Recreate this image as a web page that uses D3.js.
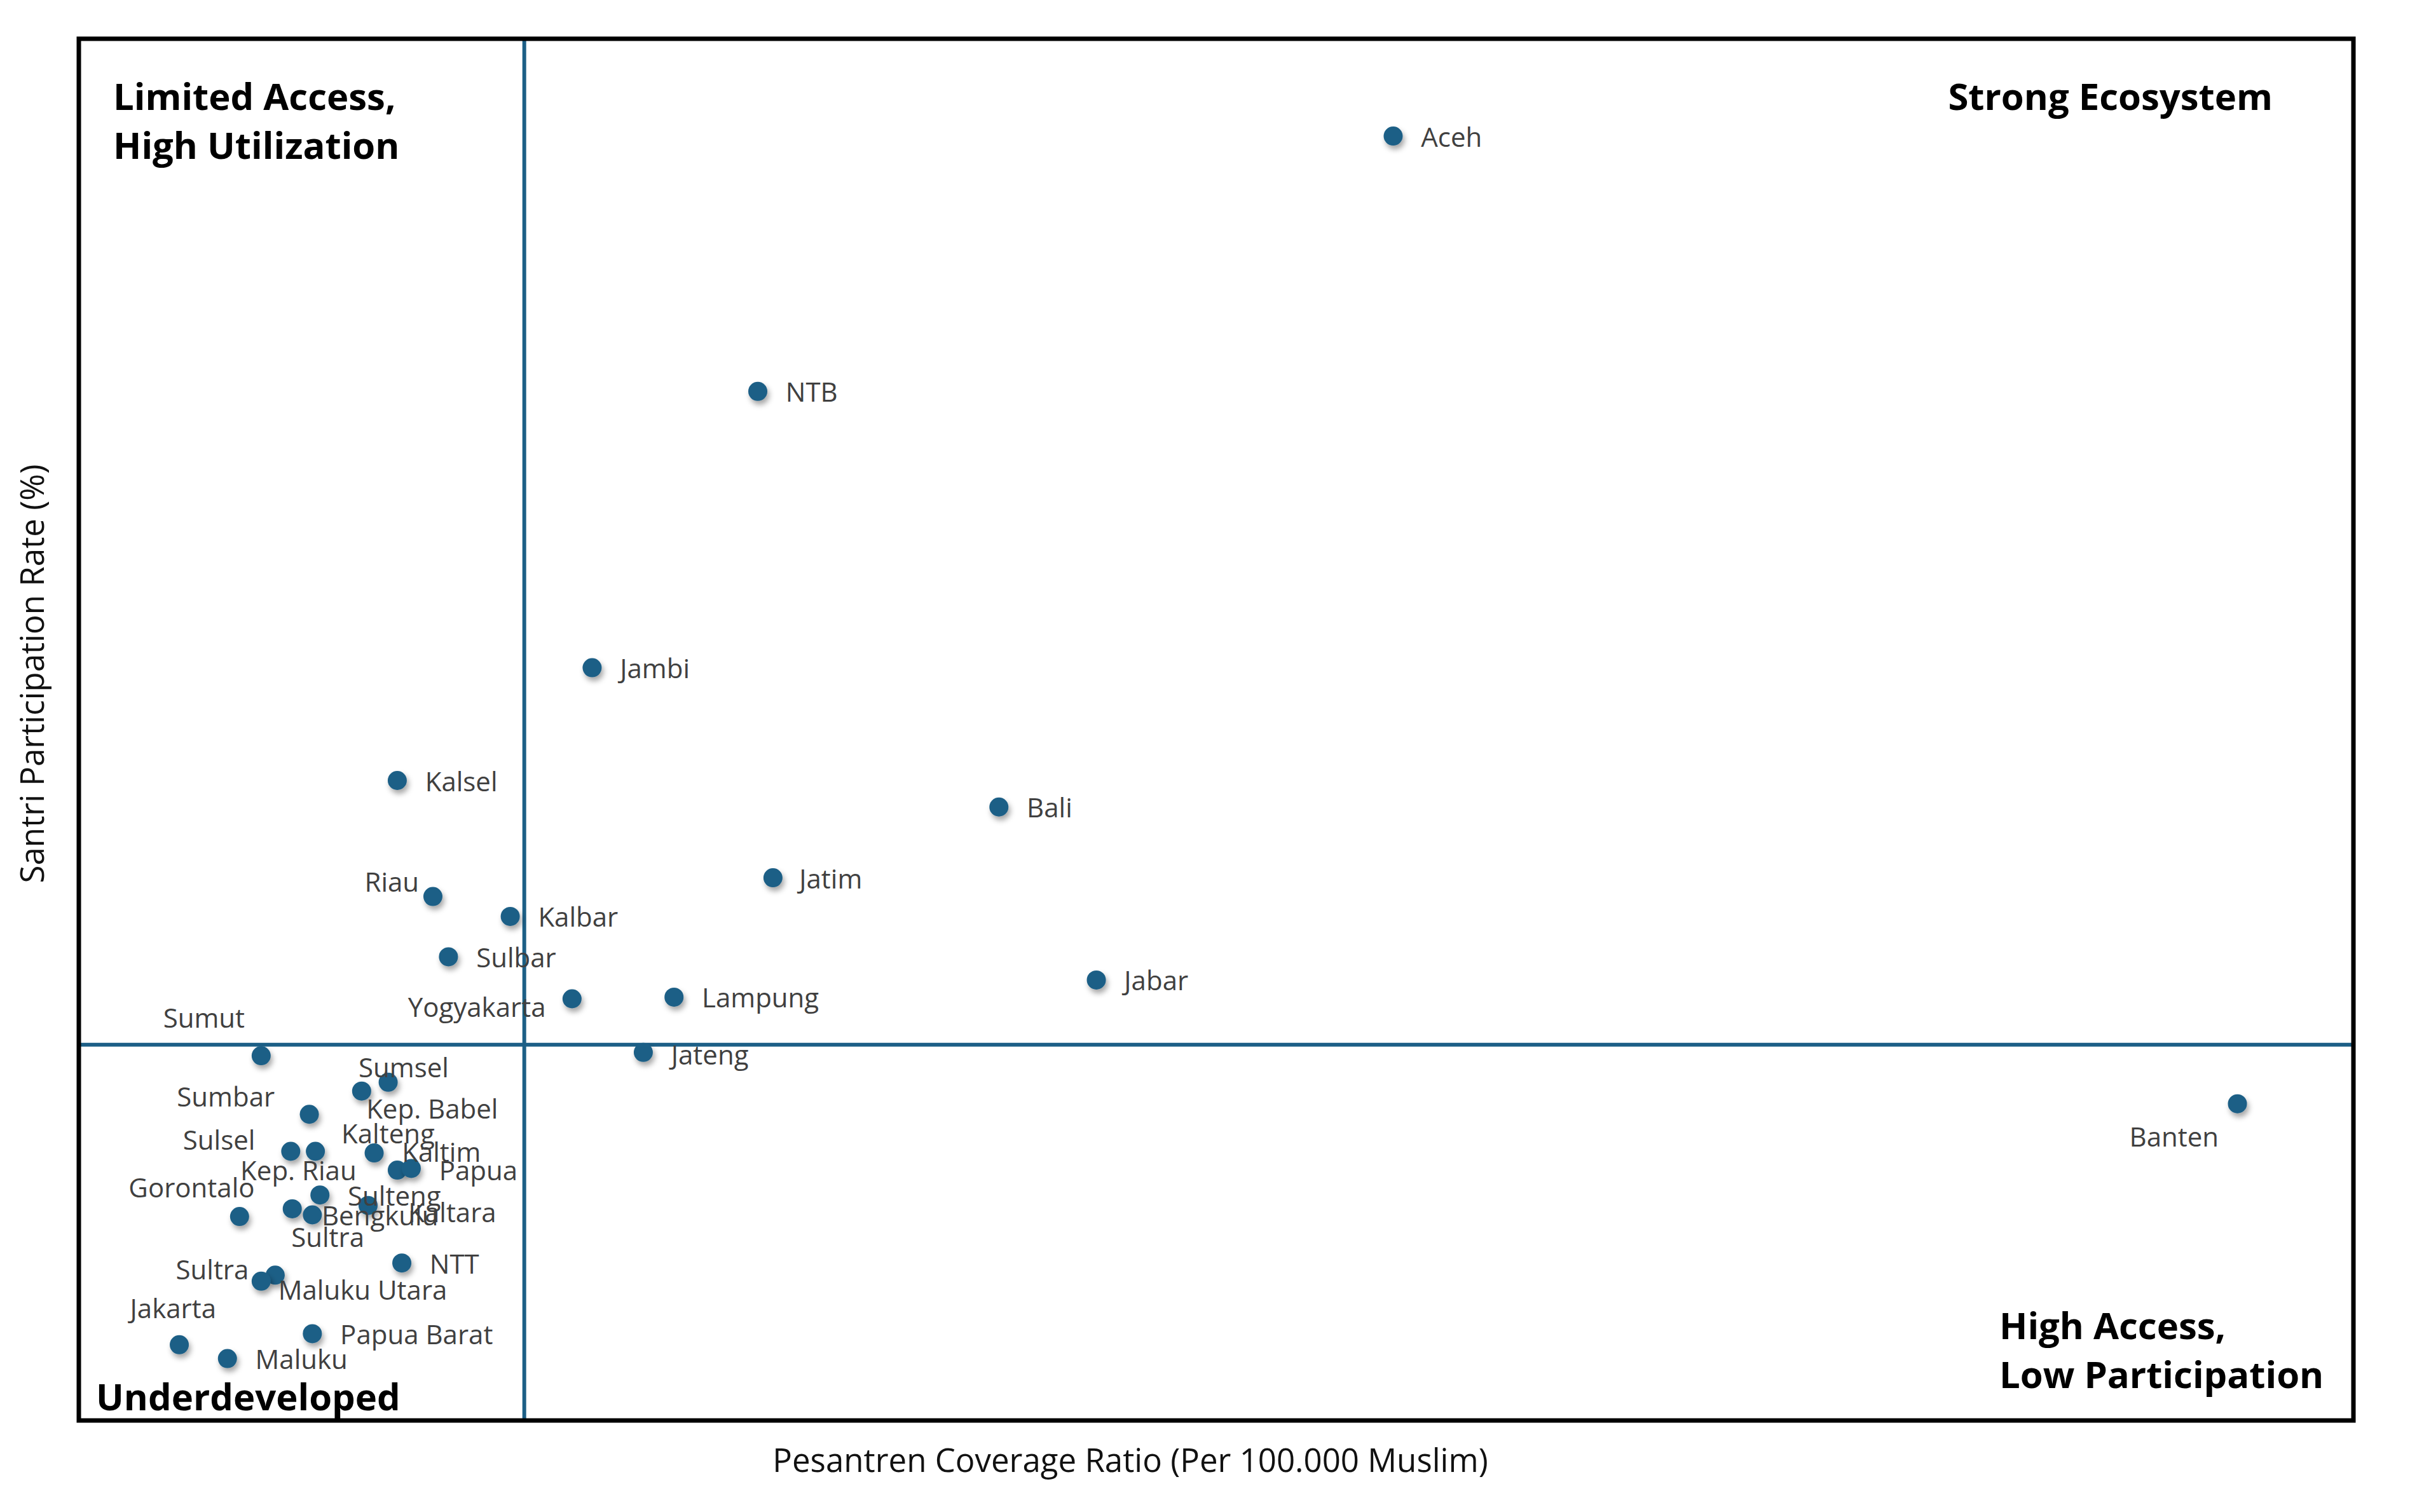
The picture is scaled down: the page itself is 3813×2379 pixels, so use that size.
<!DOCTYPE html>
<html>
<head>
<meta charset="utf-8">
<script src="https://cdn.jsdelivr.net/npm/d3@7"></script>
<style>
  body { margin: 0; background: #fff; }
  svg { display: block; }
</style>
</head>
<body>
<svg width="3813" height="2379"></svg>
<script>
//data
var provinces = ['Aceh','NTB','Jambi','Kalsel','Bali','Jatim','Riau','Kalbar','Sulbar','Jabar','Lampung','Yogyakarta','Jateng','Banten',
  'Sumut','Sumsel','Kep. Babel','Sumbar','Sulsel','Kep. Riau','Kalteng','Kaltim','Papua','Sulteng','Sultra','Bengkulu','Kaltara',
  'Gorontalo','NTT','Maluku Utara','Sultra','Papua Barat','Jakarta','Maluku'];
var coverage = [34.67,17.91,13.54,8.40,24.27,18.31,9.34,11.38,9.75,26.84,15.70,13.01,14.89,56.94,
  4.81,8.16,7.46,6.08,5.59,6.24,7.79,8.40,8.77,6.36,5.63,6.16,7.63,
  4.24,8.52,5.18,4.81,6.16,2.65,3.92];
var participation = [23.24,18.62,13.62,11.58,11.10,9.82,9.48,9.12,8.39,7.97,7.66,7.63,6.66,5.73,
  6.60,6.12,5.96,5.54,4.87,4.87,4.84,4.53,4.56,4.08,3.83,3.72,3.89,
  3.69,2.85,2.63,2.52,1.57,1.37,1.12];
var xThreshold = 11.75;
var yThreshold = 6.80;
var xDomain = [0, 60];
var yDomain = [0, 25];
var quadrantTitles = [['Limited Access,','High Utilization'],['Strong Ecosystem'],['High Access,','Low Participation'],['Underdeveloped']];
var xTitle = 'Pesantren Coverage Ratio (Per 100.000 Muslim)';
var yTitle = 'Santri Participation Rate  (%)';

//label placement: anchor and offset from the dot (screen units, scaled below)
var labelPlace = [['start',18,0],['start',18,0],['start',18,0],['start',18,0],['start',18,0],['start',17,0],['end',-9,-10],
  ['start',18,0],['start',18,0],['start',18,0],['start',18,0],['end',-17,5],['start',18,1],['middle',-41,21],
  ['middle',-37,-25],['middle',10,-10],['start',3,11],['middle',-54,-12],['end',-23,-8],['middle',-11,12],['middle',9,-13],
  ['start',3,-12],['start',18,1],['start',18,0],['middle',23,18],['start',6,0],['start',26,4],
  ['middle',-31,-19],['start',18,0],['start',2,9],['end',-8,-8],['start',18,0],['middle',-4,-24],['start',18,0]];

var S = 2.432;
var svg = d3.select('svg');
var frame = {l: 124, t: 61, r: 3702, b: 2235};
var dotColor = '#1c5f86';
var font = '"Open Sans", "Noto Sans", sans-serif';

var x = d3.scaleLinear().domain(xDomain).range([frame.l, frame.r]);
var y = d3.scaleLinear().domain(yDomain).range([frame.b, frame.t]);

var dataset = provinces.map(function(p, i) {
  return {name: p, cov: coverage[i], part: participation[i], place: labelPlace[i]};
});

//shadow for dots
var defs = svg.append('defs');
var f = defs.append('filter').attr('id', 'shadow')
  .attr('x', '-60%').attr('y', '-60%').attr('width', '240%').attr('height', '240%');
f.append('feDropShadow').attr('dx', 3).attr('dy', 6).attr('stdDeviation', 4)
  .attr('flood-color', '#000').attr('flood-opacity', 0.35);

//quadrant lines
svg.append('line')
  .attr('x1', x(xThreshold)).attr('x2', x(xThreshold))
  .attr('y1', frame.t).attr('y2', frame.b)
  .attr('stroke', dotColor).attr('stroke-width', 6);
svg.append('line')
  .attr('x1', frame.l).attr('x2', frame.r)
  .attr('y1', y(yThreshold)).attr('y2', y(yThreshold))
  .attr('stroke', dotColor).attr('stroke-width', 6);

//frame
svg.append('rect')
  .attr('x', frame.l).attr('y', frame.t)
  .attr('width', frame.r - frame.l).attr('height', frame.b - frame.t)
  .attr('fill', 'none').attr('stroke', '#000').attr('stroke-width', 7);

//dots
svg.selectAll('.dot')
  .data(dataset)
  .enter()
  .append('circle')
  .attr('class', 'dot')
  .attr('cx', function(d) { return x(d.cov); })
  .attr('cy', function(d) { return y(d.part); })
  .attr('r', 15)
  .attr('fill', dotColor)
  .attr('filter', 'url(#shadow)');

//labels
svg.selectAll('.lbl')
  .data(dataset)
  .enter()
  .append('text')
  .attr('class', 'lbl')
  .attr('x', function(d) { return x(d.cov) + d.place[1] * S; })
  .attr('y', function(d) { return y(d.part) + d.place[2] * S; })
  .attr('text-anchor', function(d) { return d.place[0]; })
  .attr('dominant-baseline', 'central')
  .attr('font-family', font)
  .attr('font-size', 42)
  .attr('fill', '#404040')
  .text(function(d) { return d.name; });

//quadrant titles
function title(lines, tx, ty, anchor) {
  var t = svg.append('text')
    .attr('font-family', font).attr('font-weight', 700)
    .attr('font-size', 58).attr('fill', '#000')
    .attr('text-anchor', anchor);
  lines.forEach(function(line, i) {
    t.append('tspan').attr('x', tx).attr('y', ty + i * 77)
      .attr('dominant-baseline', 'central').text(line);
  });
}
title(quadrantTitles[0], 178, 150, 'start');
title(quadrantTitles[1], 3575, 150, 'end');
title(quadrantTitles[2], 3145, 2084, 'start');
title(quadrantTitles[3], 151, 2196, 'start');

//axis titles
svg.append('text')
  .attr('x', 1778).attr('y', 2296)
  .attr('text-anchor', 'middle').attr('dominant-baseline', 'central')
  .attr('font-family', font).attr('font-size', 51).attr('fill', '#111')
  .text(xTitle);
svg.append('text')
  .attr('transform', 'translate(' + [49, 1060] + ')rotate(270)')
  .attr('text-anchor', 'middle').attr('dominant-baseline', 'central')
  .attr('font-family', font).attr('font-size', 51).attr('fill', '#111')
  .text(yTitle);
</script>
</body>
</html>
